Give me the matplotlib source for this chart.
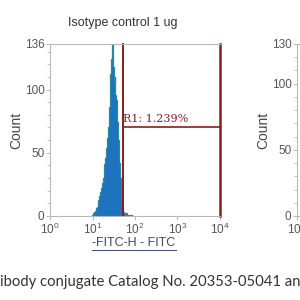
import numpy as np
import matplotlib
matplotlib.use("Agg")
import matplotlib.pyplot as plt
from matplotlib.lines import Line2D

# ---- data ----
title = "Isotype control 1 ug"
log_bin_centers = [0.97, 0.99, 1.01, 1.03, 1.05, 1.07, 1.09, 1.11, 1.13, 1.15,
                   1.17, 1.19, 1.21, 1.23, 1.25, 1.27, 1.29, 1.31, 1.33, 1.35,
                   1.37, 1.39, 1.41, 1.43, 1.45, 1.47, 1.49, 1.51, 1.53, 1.55,
                   1.57, 1.59, 1.61, 1.63, 1.65, 1.67, 1.69, 1.71, 1.73, 1.75,
                   1.77, 1.79, 1.81, 1.83, 1.85, 1.87, 1.89, 1.91, 1.93, 1.95]
counts = [0, 1, 2, 2, 3, 4, 6, 7, 9, 13,
          16, 19, 22, 26, 30, 34, 41, 46, 54, 62,
          70, 86, 102, 112, 124, 136, 118, 105, 110, 96,
          92, 74, 60, 42, 30, 20, 11, 6, 3, 2,
          1, 2, 1, 1, 0, 1, 1, 0, 1, 0]
gate_left = 10 ** 1.72
gate_right = 10 ** 4.0
gate_level = 70
gate_label = "R1: 1.239%"
y_ticks_1 = [0, 50, 100, 136]
y_ticks_2 = [0, 50, 100, 130]
x_label = "-FITC-H - FITC"
caption = "ibody conjugate Catalog No. 20353-05041 an"

plt.rcParams["font.family"] = ["Liberation Sans", "DejaVu Sans"]
plt.rcParams["mathtext.fontset"] = "custom"
plt.rcParams["mathtext.rm"] = "Liberation Sans"

fig = plt.figure(figsize=(3, 3), dpi=100)
fig.patch.set_facecolor("white")

grey = "#b8b8b8"
tick_txt = "#555555"
red = "#8b1c1c"


def style_axes(ax, ymax, yticks, xlabels_all=True):
    ax.set_xscale("log")
    ax.set_xlim(1, 1e4)
    ax.set_ylim(0, ymax)
    ax.set_yticks(yticks)
    ax.set_yticklabels([str(t) for t in yticks])
    ax.set_yticks(np.arange(10, ymax, 10), minor=True)
    ax.set_xticks([1, 10, 100, 1000, 10000])
    labels = [r"$\mathregular{10^{%d}}$" % i for i in range(5)]
    if not xlabels_all:
        labels = [labels[0]] + [""] * 4
    ax.set_xticklabels(labels)
    for s in ax.spines.values():
        s.set_color(grey)
        s.set_linewidth(0.8)
    ax.tick_params(axis="y", which="major", colors=grey, labelcolor=tick_txt,
                   labelsize=8.5, length=3, width=0.7, pad=1)
    ax.tick_params(axis="x", which="major", colors=grey, labelcolor=tick_txt,
                   labelsize=8.5, length=3, width=0.7, pad=1)
    ax.tick_params(axis="y", which="minor", colors=grey, length=2, width=0.6)
    ax.tick_params(axis="x", which="minor", colors=grey, length=2.5, width=0.6,
                   direction="inout")
    ax.set_ylabel("Count", fontsize=10, color="#444444", labelpad=1)


ax = fig.add_axes([50 / 300, 1 - 216 / 300, 170 / 300, 172 / 300])
style_axes(ax, 136, y_ticks_1)
ax.spines["right"].set_visible(False)

xc = 10 ** np.array(log_bin_centers)
ax.fill_between(xc, counts, step="mid", color="#1b74bd", linewidth=0)
ax.step(xc, counts, where="mid", color="#2d8797", linewidth=0.9)

ax.plot([gate_left, gate_left], [0, 136], color=red, lw=1.4, clip_on=False)
ax.plot([gate_right, gate_right], [0, 136], color=red, lw=1.8, clip_on=False)
ax.plot([gate_left, gate_right], [gate_level, gate_level], color=red, lw=1.2)
ax.text(gate_left * 1.02, gate_level + 2.5, gate_label, color=red,
        fontsize=8, family="DejaVu Serif", ha="left", va="bottom")

fig.text(123 / 300, 1 - 23 / 300, title, ha="center", va="center",
         fontsize=9, color="#333333")

xl = fig.text(134 / 300, 1 - 243 / 300, x_label, ha="center", va="center",
              fontsize=9, color="#3d4a6b")
fig.canvas.draw()
bb = xl.get_window_extent().transformed(fig.transFigure.inverted())
fig.add_artist(Line2D([bb.x0, bb.x1], [bb.y0 - 0.002, bb.y0 - 0.002],
                      transform=fig.transFigure, color="#3d4a6b", lw=0.7))

ax2 = fig.add_axes([297 / 300, 1 - 216 / 300, 170 / 300, 172 / 300])
style_axes(ax2, 130, y_ticks_2, xlabels_all=False)

fig.text(0.0, 1 - 282 / 300, caption, ha="left", va="center",
         fontsize=10.7, color="#333333", family="Lato")

fig.savefig("out.png", dpi=100)
